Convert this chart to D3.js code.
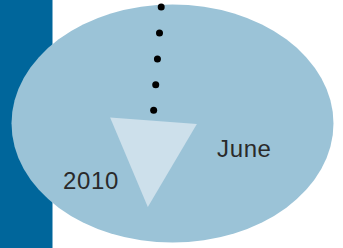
<!DOCTYPE html>
<html><head><meta charset="utf-8">
<script src="https://cdn.jsdelivr.net/npm/d3@7"></script>
<style>html,body{margin:0;padding:0;background:#fff;overflow:hidden}</style>
</head><body>
<svg id="c" width="343" height="248"></svg>
<script>
// data (in a 0-100 unit space)
const dotX = [47.0, 46.5, 45.9, 45.4, 44.8];
const dotY = [2.8, 13.3, 23.8, 34.2, 44.5];
const triX = [32.1, 57.4, 43.1];
const triY = [47.4, 50.0, 83.5];
const labels = ["June", "2010"];
const labelX = [63.3, 18.4];
const labelY = [63.4, 76.4];

const W = 343, H = 248;
const x = d3.scaleLinear().domain([0, 100]).range([0, W]);
const y = d3.scaleLinear().domain([0, 100]).range([0, H]);
const svg = d3.select("#c");

svg.append("rect").attr("x", 0).attr("y", 0).attr("width", 52.5).attr("height", H).attr("fill", "#00669b");
svg.append("ellipse").attr("cx", 172.5).attr("cy", 123.5).attr("rx", 161).attr("ry", 119).attr("fill", "#9bc3d7");

const tri = triX.map((v, i) => [x(v), y(triY[i])]);
svg.append("path").attr("d", d3.line()(tri) + "Z").attr("fill", "#cde0eb");

svg.selectAll("circle.dot").data(dotX).join("circle")
  .attr("class", "dot")
  .attr("cx", d => x(d)).attr("cy", (d, i) => y(dotY[i])).attr("r", 3.5).attr("fill", "#000");

svg.selectAll("text.lbl").data(labels).join("text")
  .attr("class", "lbl")
  .attr("x", (d, i) => x(labelX[i])).attr("y", (d, i) => y(labelY[i]))
  .attr("font-family", "'Liberation Sans', Arial, sans-serif")
  .attr("font-size", 24).attr("letter-spacing", 0.6).attr("fill", "#2a2a2a")
  .text(d => d);
</script>
</body></html>
